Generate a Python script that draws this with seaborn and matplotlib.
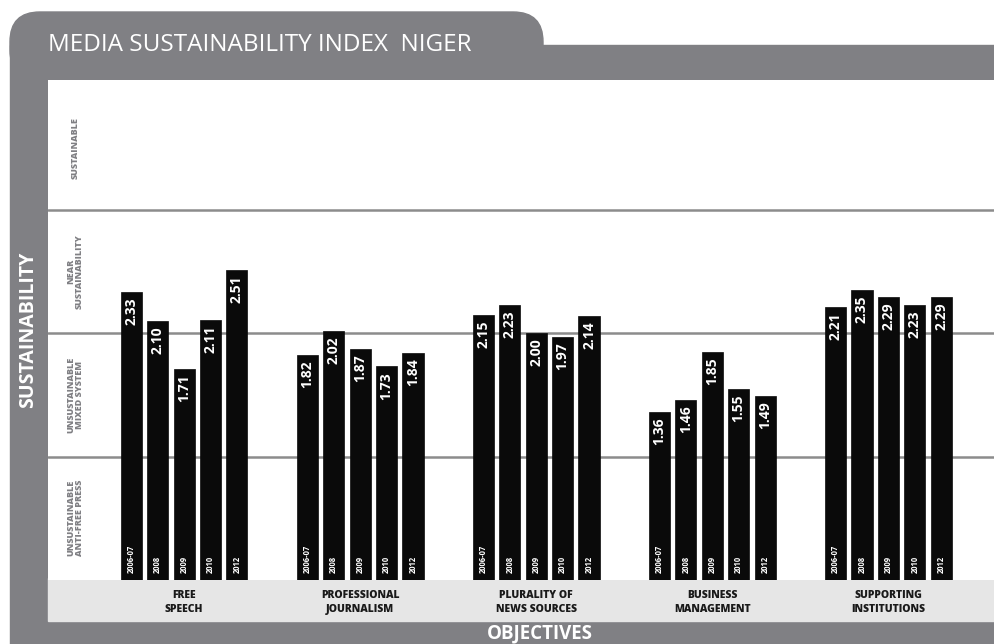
import matplotlib
matplotlib.use("Agg")
import matplotlib.pyplot as plt
from matplotlib.patches import Rectangle, FancyBboxPatch
import seaborn as sns
import pandas as pd

objectives = ['FREE\nSPEECH', 'PROFESSIONAL\nJOURNALISM', 'PLURALITY OF\nNEWS SOURCES',
              'BUSINESS\nMANAGEMENT', 'SUPPORTING\nINSTITUTIONS']
years = ['2006-07', '2008', '2009', '2010', '2012']
scores_2006 = [2.33, 1.82, 2.15, 1.36, 2.21]
scores_2008 = [2.10, 2.02, 2.23, 1.46, 2.35]
scores_2009 = [1.71, 1.87, 2.00, 1.85, 2.29]
scores_2010 = [2.11, 1.73, 1.97, 1.55, 2.23]
scores_2012 = [2.51, 1.84, 2.14, 1.49, 2.29]
bands = ['UNSUSTAINABLE\nANTI-FREE PRESS', 'UNSUSTAINABLE\nMIXED SYSTEM',
         'NEAR\nSUSTAINABILITY', 'SUSTAINABLE']

rows = []
for yr, vals in zip(years, [scores_2006, scores_2008, scores_2009, scores_2010, scores_2012]):
    for obj, v in zip(objectives, vals):
        rows.append({'objective': obj, 'year': yr, 'score': v})
df = pd.DataFrame(rows)

sns.set_style("white")
plt.rcParams['font.family'] = ['Open Sans', 'DejaVu Sans']

W, H = 994, 644
fig = plt.figure(figsize=(W / 100, H / 100), dpi=100)
fig.patch.set_facecolor('white')
frame = '#808084'

def px(x0, y0, x1, y1):
    # pixel box (top-left origin) -> figure fraction
    return x0 / W, 1 - y1 / H, (x1 - x0) / W, (y1 - y0) / H

# gray frame + tab
l, b, w, h = px(10, 45, 994, 644)
fig.patches.append(Rectangle((l, b), w, h, transform=fig.transFigure, color=frame, zorder=0))
l, b, w, h = px(10, 12, 543, 80)
fig.patches.append(FancyBboxPatch((l, b), w, h, boxstyle='round,pad=0,rounding_size=0.03',
                                  transform=fig.transFigure, color=frame, zorder=0,
                                  mutation_aspect=W / H))
# light band for category labels
l, b, w, h = px(48, 578, 994, 621)
fig.patches.append(Rectangle((l, b), w, h, transform=fig.transFigure, color='#e6e6e6', zorder=1))

ax = fig.add_axes(px(48, 80, 994, 580))
ax.set_facecolor('white')
ax.set_zorder(2)

sns.barplot(data=df, x='objective', y='score', hue='year', hue_order=years,
            palette=['#0a0a0a'] * 5, dodge=True, width=0.75, gap=0.2,
            edgecolor='#0a0a0a', linewidth=0.5, legend=False, ax=ax, zorder=3)

ax.set_xlim(-0.773, 4.60)
ax.set_ylim(0, 4.05)
for yv in [1, 2, 3]:
    ax.axhline(yv, color='#8c8c8c', lw=1.8, zorder=1)
ax.set_yticks([])
ax.set_xlabel('')
ax.set_ylabel('')
ax.tick_params(axis='x', length=0, pad=7)
ax.set_xticks(range(len(objectives)))
ax.set_xticklabels(objectives, fontsize=7.5, fontweight='heavy', color='#1a1a1a', linespacing=1.45)
for s in ax.spines.values():
    s.set_visible(False)

for yr, cont in zip(years, ax.containers):
    for bar in cont:
        cx = bar.get_x() + bar.get_width() / 2
        val = bar.get_height()
        ax.annotate(f'{val:.2f}', (cx, val), xytext=(0, -4), textcoords='offset points',
                    rotation=90, ha='center', va='top', color='white',
                    fontsize=10, fontweight='bold', zorder=5)
        ax.annotate(yr, (cx, 0), xytext=(0, 5), textcoords='offset points',
                    rotation=90, ha='center', va='bottom', color='white',
                    fontsize=5.5, fontweight='bold', zorder=5)

for i, band in enumerate(bands):
    ax.text(-0.62, i + 0.5, band, rotation=90, ha='center', va='center', color=frame,
            fontsize=6.5, fontweight='heavy', linespacing=1.0)

fig.text(48 / W, 1 - 45 / H, 'MEDIA SUSTAINABILITY INDEX  NIGER', color='white',
         fontsize=17.5, ha='left', va='center')
fig.text(28 / W, 1 - 330 / H, 'SUSTAINABILITY', color='white', fontsize=14,
         fontweight='bold', rotation=90, ha='center', va='center')
fig.text(540 / W, 1 - 633 / H, 'OBJECTIVES', color='white', fontsize=13.5,
         fontweight='bold', ha='center', va='center')

fig.savefig('out.png', dpi=100, facecolor='white')
